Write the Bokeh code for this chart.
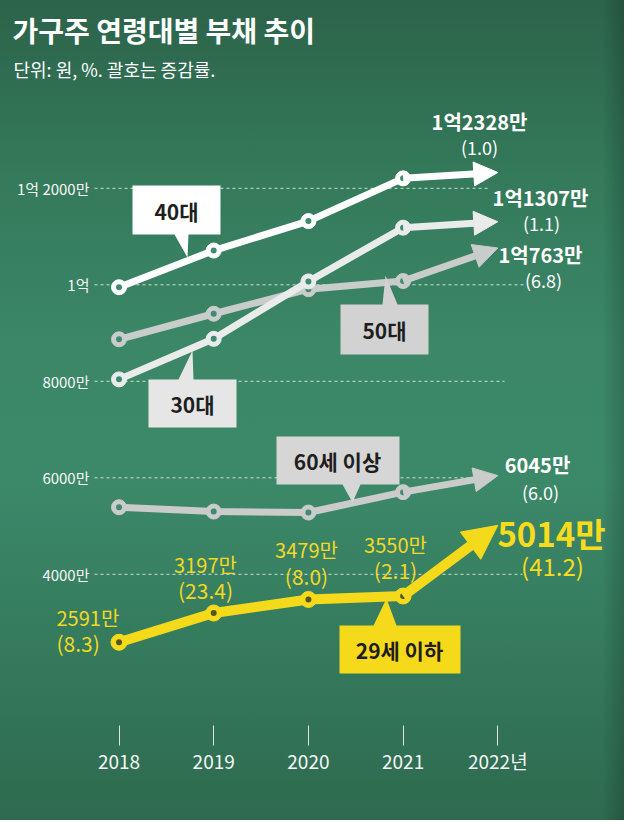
from bokeh.plotting import figure
from bokeh.models import Label, Arrow, NormalHead, PolyAnnotation, FixedTicker, Range1d
from bokeh.embed import file_html
from bokeh.resources import INLINE

# ---------------- data (만원) ----------------
years = [2018, 2019, 2020, 2021, 2022]
year_labels = ["2018", "2019", "2020", "2021", "2022년"]

debt_40s = [9950, 10710, 11320, 12206, 12328]
debt_30s = [8040, 8880, 10070, 11184, 11307]
debt_50s = [8870, 9400, 9910, 10078, 10763]
debt_60plus = [5390, 5300, 5280, 5703, 6045]
debt_29under = [2591, 3197, 3479, 3550, 5014]

growth_40s = "1.0"
growth_30s = "1.1"
growth_50s = "6.8"
growth_60plus = "6.0"
growth_29under = ["8.3", "23.4", "8.0", "2.1", "41.2"]

y_ticks = [4000, 6000, 8000, 10000, 12000]
y_tick_labels = ["4000만", "6000만", "8000만", "1억", "1억 2000만"]

# ---------------- layout helpers (reference pixel -> data) ----------------
X_2018, X_STEP = 126.5, 94.7
Y_8000, Y_STEP = 388.8, 0.04825


def X(px):
    return 2018 + (px - X_2018) / X_STEP


def Y(py):
    return 8000 - (py - Y_8000) / Y_STEP


def man(v):
    return f"1억{v - 10000}만" if v >= 10000 else f"{v}만"


KR = "Noto Sans CJK KR"

W, H = 624, 820
p = figure(width=W, height=H, output_backend="svg", toolbar_location=None,
           x_range=Range1d(X(8), X(632)), y_range=Range1d(Y(733), Y(8)),
           min_border_left=0, min_border_right=0, min_border_top=0,
           min_border_bottom=95)
p.background_fill_color = None
p.border_fill_color = None
p.outline_line_color = None
p.styles = {"background": "linear-gradient(to right, rgba(0,0,0,0) 96.5%, rgba(0,0,0,0.18) 100%),"
                          "linear-gradient(to bottom, #2c634a 0%, #347a5b 22%, #3b8768 42%, "
                          "#3c896a 58%, #357b5d 78%, #2e6a4f 100%)"}

# x axis
p.xaxis.ticker = FixedTicker(ticks=years)
p.xaxis.major_label_overrides = {y: l for y, l in zip(years, year_labels)}
p.xaxis.axis_line_color = None
p.xaxis.major_tick_in = 0
p.xaxis.major_tick_out = 20
p.xaxis.major_tick_line_color = "#dce6e1"
p.xaxis.major_tick_line_width = 1
p.xaxis.minor_tick_line_color = None
p.xaxis.major_label_standoff = 1
p.xaxis.major_label_text_font = KR
p.xaxis.major_label_text_font_size = "19px"
p.xaxis.major_label_text_color = "#f4f7f5"

# y axis, placed inside the plot just left of the gridlines
p.yaxis.fixed_location = X(106)
p.yaxis.ticker = FixedTicker(ticks=y_ticks)
p.yaxis.major_label_overrides = {t: l for t, l in zip(y_ticks, y_tick_labels)}
p.yaxis.axis_line_color = None
p.yaxis.major_tick_line_color = None
p.yaxis.minor_tick_line_color = None
p.yaxis.major_label_standoff = 3
p.yaxis.major_label_text_font = KR
p.yaxis.major_label_text_font_size = "15px"
p.yaxis.major_label_text_color = "#f4f7f5"

# dashed gridlines (from the tick values), stopping before the right-hand labels
p.xgrid.visible = False
p.ygrid.visible = False
grid_right_px = [530, 500, 512, 532, 497]
p.segment(x0=[X(102)] * len(y_ticks), y0=y_ticks, x1=[X(r) for r in grid_right_px], y1=y_ticks,
          line_color="#dfeae4", line_dash="3 3", line_width=1, line_alpha=0.9)

# ---------------- series ----------------
series = [
    (debt_50s, "#c8ccca", 7, 24, "#3f8a72"),
    (debt_30s, "#eaeceb", 7, 24, "#3f8a72"),
    (debt_40s, "#ffffff", 7, 24, "#3f8a72"),
    (debt_60plus, "#c9cccb", 7, 24, "#3f8a72"),
    (debt_29under, "#f5da1c", 10, 34, "#55561c"),
]
for vals, col, lw, head, dot in series:
    p.line(years[:4], vals[:4], line_color=col, line_width=lw,
           line_join="round", line_cap="round")
    p.add_layout(Arrow(end=NormalHead(size=head, fill_color=col, line_color=col, line_width=1),
                       x_start=years[3], y_start=vals[3], x_end=years[4], y_end=vals[4],
                       line_color=col, line_width=lw))
    p.scatter(years[:4], vals[:4], size=15 if lw < 9 else 16, fill_color=col, line_color=col)
    p.scatter(years[:4], vals[:4], size=6, fill_color=dot, line_color=None)

# ---------------- callouts ----------------
callouts = [
    ("40대", "#ffffff",
     [(140, 193), (228, 193), (228, 242), (196, 242), (195, 265), (182, 242), (140, 242)], (184, 218)),
    ("30대", "#e6e6e6",
     [(156, 387), (186, 387), (200, 358), (201, 387), (244, 387), (244, 435), (156, 435)], (200, 411)),
    ("50대", "#d2d2d2",
     [(348, 312), (390, 312), (393, 283), (405, 312), (436, 312), (436, 362), (348, 362)], (392, 337)),
    ("60세 이상", "#d6d6d6",
     [(284, 444), (407, 444), (407, 492), (368, 492), (360, 510), (350, 492), (284, 492)], (345, 468)),
    ("29세 이하", "#f5da1c",
     [(347, 633), (381, 633), (394, 606), (404, 633), (468, 633), (468, 681), (347, 681)], (407, 657)),
]
for txt, col, pts, (tx, ty) in callouts:
    p.add_layout(PolyAnnotation(xs=[X(a) for a, b in pts], ys=[Y(b) for a, b in pts],
                                fill_color=col, fill_alpha=1, line_color=None))
    p.add_layout(Label(x=X(tx), y=Y(ty), text=txt, text_align="center", text_baseline="middle",
                       text_font=KR, text_font_size="21px", text_font_style="bold",
                       text_color="#1e1e1e"))

# ---------------- end labels ----------------
white_ends = [
    (debt_40s[4], growth_40s, (487, 129), (487, 154)),
    (debt_30s[4], growth_30s, (548, 205), (549, 230)),
    (debt_50s[4], growth_50s, (548, 262), (551, 287)),
    (debt_60plus[4], growth_60plus, (545, 472), (548, 499)),
]
for v, g, (ax, ay), (bx, by) in white_ends:
    p.add_layout(Label(x=X(ax), y=Y(ay), text=man(v), text_align="center", text_baseline="middle",
                       text_font=KR, text_font_size="20px", text_font_style="bold",
                       text_color="#ffffff"))
    p.add_layout(Label(x=X(bx), y=Y(by), text=f"({g})", text_align="center", text_baseline="middle",
                       text_font=KR, text_font_size="18px", text_color="#ffffff"))

yellow_pos = [((64, 625), (64, 650), "left"),
              ((213, 572), (213, 597), "center"),
              ((314, 557), (314, 583), "center"),
              ((403, 552), (403, 577), "center")]
for i, ((ax, ay), (bx, by), al) in enumerate(yellow_pos):
    p.add_layout(Label(x=X(ax), y=Y(ay), text=man(debt_29under[i]), text_align=al,
                       text_baseline="middle", text_font=KR, text_font_size="20px",
                       text_color="#f3d824"))
    p.add_layout(Label(x=X(bx), y=Y(by), text=f"({growth_29under[i]})", text_align=al,
                       text_baseline="middle", text_font=KR, text_font_size="21px",
                       text_color="#f3d824"))
p.add_layout(Label(x=X(559), y=Y(540), text=man(debt_29under[4]), text_align="center",
                   text_baseline="middle", text_font=KR, text_font_size="33px",
                   text_font_style="bold", text_color="#f7dc1e"))
p.add_layout(Label(x=X(560), y=Y(573), text=f"({growth_29under[4]})", text_align="center",
                   text_baseline="middle", text_font=KR, text_font_size="24px",
                   text_color="#f7dc1e"))

# ---------------- titles ----------------
p.add_layout(Label(x=X(20), y=Y(37), text="가구주 연령대별 부채 추이", text_align="left",
                   text_baseline="middle", text_font=KR, text_font_size="28px",
                   text_font_style="bold", text_color="#ffffff"))
p.add_layout(Label(x=X(21), y=Y(76), text="단위: 원, %. 괄호는 증감률.", text_align="left",
                   text_baseline="middle", text_font=KR, text_font_size="18px",
                   text_color="#ffffff"))

open("out.html", "w").write(file_html(p, INLINE))
